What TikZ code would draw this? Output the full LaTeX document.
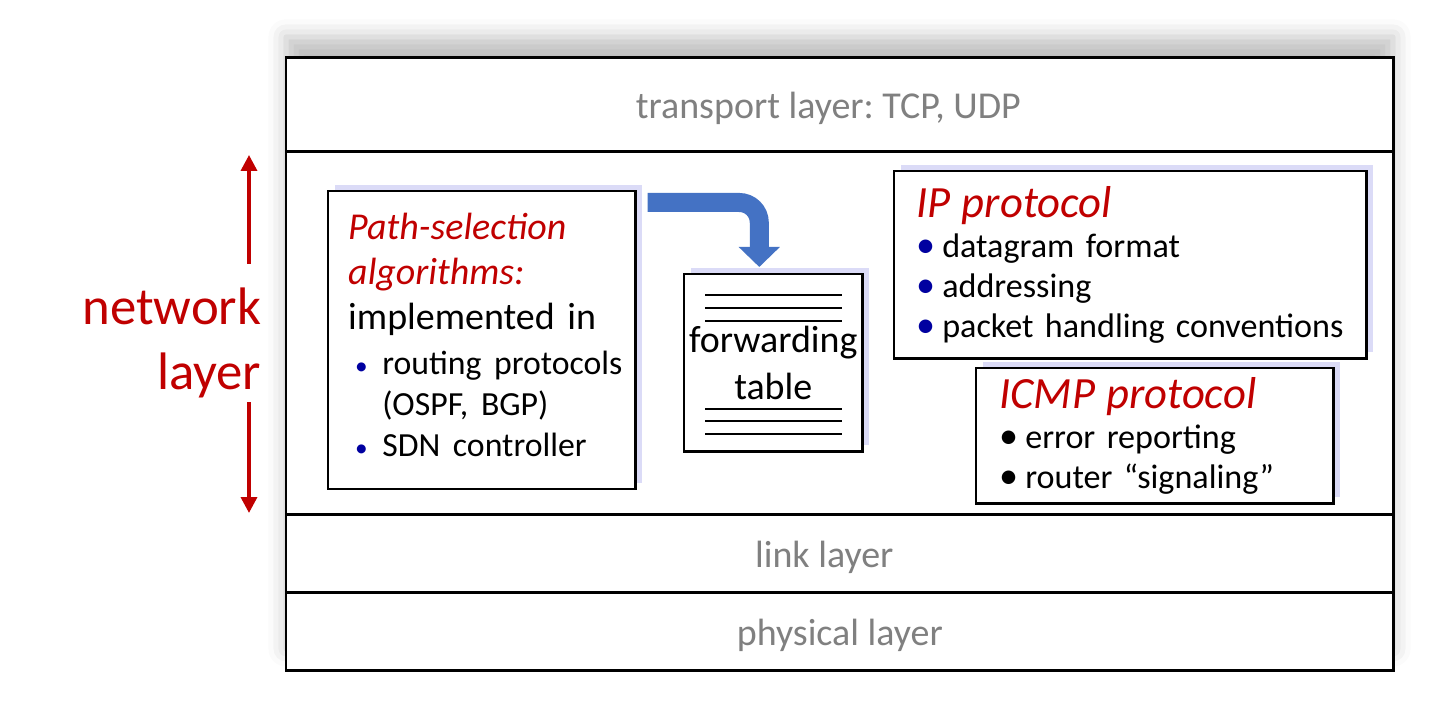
\documentclass[tikz,border=0pt]{standalone}
\usepackage{fontspec}
\setmainfont{Carlito}
\usepackage{graphicx}
\usetikzlibrary{shapes}
\usetikzlibrary{arrows.meta}
\usetikzlibrary{positioning}
\usetikzlibrary{shadows,shadows.blur}
\definecolor{rouge}{RGB}{192,0,0}
\definecolor{gris}{RGB}{128,128,128}
\definecolor{bleupuce}{RGB}{0,0,160}
\definecolor{bleufleche}{RGB}{68,114,196}
\definecolor{lueur}{RGB}{185,185,240}
\newcommand{\puce}[3]{\hspace*{#1}\makebox[#2][l]{\textcolor{#3}{\scalebox{0.75}{\textbullet}}}}
\newcommand{\grospuce}[1]{\makebox[0.26cm][l]{\textcolor{#1}{\scalebox{1.12}{\textbullet}}}}
\frenchspacing
\begin{document}
\begin{tikzpicture}[x=0.01cm,y=-0.01cm]
\tikzstyle{couche}=[rectangle,draw,line width=0.85pt,outer sep=0pt,minimum width=11.07cm,anchor=north west,text=gris,text height=0.28cm,text depth=0pt,font=\fontsize{10.8}{13}\selectfont]
\tikzstyle{boite}=[rectangle,draw,line width=0.7pt,fill=white,anchor=north west,align=left,drop shadow={fill=lueur,shadow xshift=1.8pt,shadow yshift=1.8pt}]
\tikzstyle{fleche}=[-{Triangle[width=4.5pt,length=4.5pt]},line width=1pt,rouge]
\tikzstyle{grossefleche}=[-{Triangle[width=11.4pt,length=5.7pt]},line width=5.4pt,bleufleche,rounded corners=0.2cm]
\tikzstyle{ligne}=[line width=0.6pt]
\useasboundingbox (0,0) rectangle (1429,704);
% ombre du cadre
\fill[white,blur shadow={shadow xshift=0pt,shadow yshift=6pt,shadow blur radius=5pt,shadow opacity=25}] (286,58) rectangle (1393,670);
% couches
\node[couche,minimum height=0.93cm] (transport) at (286,58) {transport layer: TCP, UDP\hspace*{0.23cm}};
\node[couche,minimum height=3.63cm] (reseau) at (transport.south west) {};
\node[couche,minimum height=0.78cm] (liaison) at (reseau.south west) {link layer\hspace*{0.31cm}};
\node[couche,minimum height=0.78cm] (physique) at (liaison.south west) {physical layer};
% etiquette
\node[text=rouge,align=right,anchor=east,inner sep=0pt,font=\fontsize{15}{18.5}\selectfont] (etiquette) at (262,343) {network\\layer};
\coordinate (haut) at (249,155);
\coordinate (bas) at (249,513);
\draw[fleche,shorten <=6.7pt] (etiquette.north -| haut) -- (haut);
\draw[fleche,shorten <=1pt] (etiquette.south -| bas) -- (bas);
% boites
\node[boite,text width=2.67cm,inner xsep=0.2cm,inner ysep=0.22cm,font=\fontsize{10.8}{12.8}\selectfont] (chemin) at (327,190) {{\color{rouge}\itshape Path-selection\\ algorithms:}\\
implemented in\par\vspace{1.1pt}
{\fontsize{9.6}{11.7}\selectfont\mbox{\puce{0.07cm}{0.27cm}{bleupuce}routing protocols}\\
\mbox{\hspace*{0.34cm}(OSPF, BGP)}\\
\mbox{\puce{0.07cm}{0.27cm}{bleupuce}SDN controller}\par}\vspace{0.1cm}\hrule height 0pt width 0pt};
\node[boite,minimum width=1.78cm,minimum height=1.77cm,inner sep=0pt,align=center,font=\fontsize{10.8}{13.4}\selectfont] (ftable) at (683,273) {forwarding\\table};
\foreach \dy in {22,35,48,136,148,161}
  \draw[ligne] ([shift={(22,\dy)}]ftable.north west) -- ([shift={(-22,\dy)}]ftable.north east);
\node[boite,text width=4.28cm,inner xsep=0.22cm,inner ysep=0.15cm,font=\fontsize{9.7}{11.4}\selectfont] (ip) at (893,170) {{\fontsize{12.7}{14}\selectfont\color{rouge}\itshape IP protocol\par}
\grospuce{bleupuce}datagram format\\
\grospuce{bleupuce}addressing\\
\grospuce{bleupuce}packet handling conventions};
\node[boite,text width=3.11cm,inner xsep=0.23cm,inner ysep=0.09cm,font=\fontsize{9.7}{11.4}\selectfont] (icmp) at (975,367) {{\fontsize{12.7}{14}\selectfont\color{rouge}\itshape ICMP protocol\par}
\grospuce{black}error reporting\\
\grospuce{black}router “signaling”};
%flèche
\draw[grossefleche] ([shift={(11,12.5)}]chemin.north east) -| ([shift={(-14,-6)}]ftable.north);
\end{tikzpicture}
\end{document}
